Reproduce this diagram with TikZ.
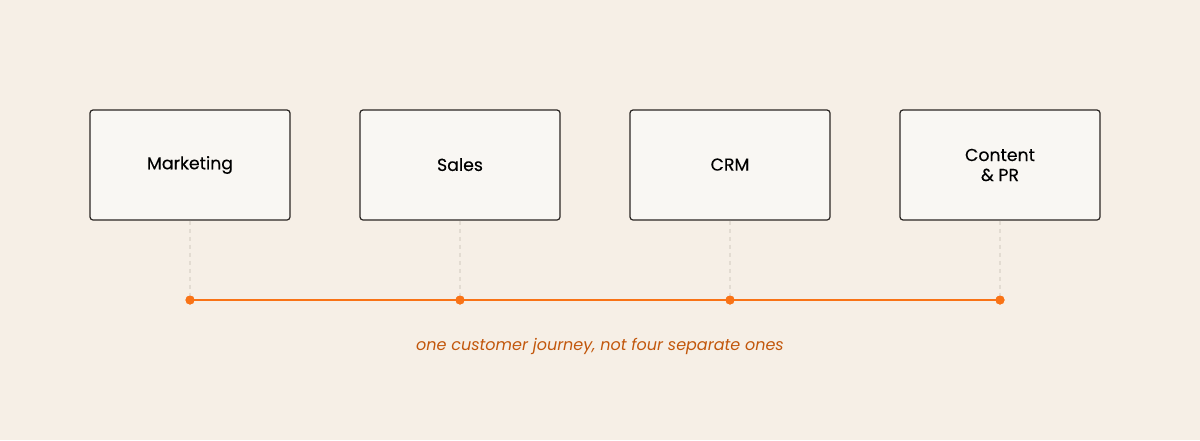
\documentclass[tikz,border=0pt]{standalone}
\usepackage{fontspec}
\setmainfont{Poppins}
\definecolor{bg}{HTML}{F6EFE6}
\definecolor{boxfill}{HTML}{F9F7F3}
\definecolor{boxline}{HTML}{2A2623}
\definecolor{orng}{HTML}{F97316}
\definecolor{cap}{HTML}{C2570C}
\definecolor{guide}{HTML}{E3DCD2}
\begin{document}
\begin{tikzpicture}[x=1pt,y=-1pt,
  box/.style={draw=boxline,line width=1.2pt,fill=boxfill,rounded corners=3pt,minimum width=200pt,minimum height=110pt,inner sep=0pt,align=center,font=\fontsize{17.3}{20}\selectfont\addfontfeature{FakeBold=0.3}},
  guide/.style={draw=guide,line width=1.2pt,dash pattern=on 4pt off 4pt},
  dot/.style={circle,fill=orng,inner sep=0pt,minimum size=9pt},
  tl/.style={draw=orng,line width=2.2pt}]
\fill[bg] (0,0) rectangle (1200,440);
\useasboundingbox (0,0) rectangle (1200,440);
\node[box] (m) at (190,165) {\raisebox{1pt}{Marketing}};
\node[box] (s) at (460,165) {\raisebox{1pt}{Sales}};
\node[box] (c) at (730,165) {\raisebox{1pt}{CRM}};
\node[box] (p) at (1000,165) {Content\\[0pt]\& PR};
\node[dot] (d1) at (190,300) {};
\node[dot] (d2) at (460,300) {};
\node[dot] (d3) at (730,300) {};
\node[dot] (d4) at (1000,300) {};
\foreach \b/\d in {m/d1,s/d2,c/d3,p/d4} \draw[guide] (\b.south) -- (\d.center);
\draw[tl] (d1.center) -- (d2.center) -- (d3.center) -- (d4.center);
\foreach \d in {d1,d2,d3,d4} \node[dot] at (\d) {};
\node[text=cap,font=\fontsize{16}{18}\selectfont\itshape] (t) at (600,346) {one customer journey, not four separate ones};
\end{tikzpicture}
\end{document}
